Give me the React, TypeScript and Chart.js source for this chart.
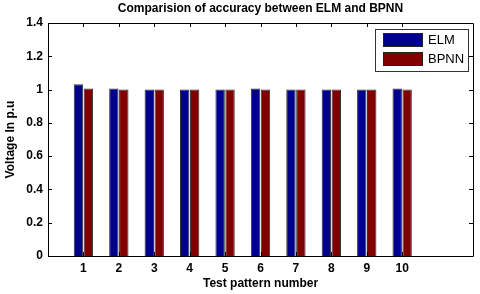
import React, { useEffect, useRef } from "react";
import { Chart, registerables } from "chart.js";

Chart.register(...registerables);

const patterns = [1, 2, 3, 4, 5, 6, 7, 8, 9, 10];
const elmValues = [1.032, 1.007, 1.0, 1.0, 1.0, 1.007, 1.0, 1.0, 1.0, 1.007];
const bpnnValues = [1.007, 1.0, 1.0, 1.0, 1.0, 1.0, 1.0, 1.0, 1.0, 1.0];
const yTicks = [0, 0.2, 0.4, 0.6, 0.8, 1, 1.2, 1.4];
const seriesNames = ["ELM", "BPNN"];
const seriesColors = ["#00008F", "#800000"];
const chartTitle = "Comparision of accuracy between ELM and BPNN";

const FONT = "'Liberation Sans', Arial, sans-serif";

const boxPlugin = {
  id: "matlabBox",
  afterDatasetsDraw(chart: any) {
    const { ctx, chartArea: a, scales } = chart;
    const x = scales.x;
    const y = scales.y;
    ctx.save();
    // title centred over the axes
    ctx.fillStyle = "#000";
    ctx.font = `bold 12px ${FONT}`;
    ctx.textAlign = "center";
    ctx.textBaseline = "middle";
    ctx.fillText(chartTitle, (a.left + a.right) / 2, 9);

    ctx.strokeStyle = "#000";
    ctx.lineWidth = 1;
    ctx.beginPath();
    ctx.rect(Math.round(a.left) + 0.5, Math.round(a.top) + 0.5, Math.round(a.right - a.left), Math.round(a.bottom - a.top));
    ctx.stroke();
    const tl = 4;
    ctx.beginPath();
    patterns.forEach((p) => {
      const px = Math.round(x.getPixelForValue(p)) + 0.5;
      ctx.moveTo(px, a.bottom);
      ctx.lineTo(px, a.bottom - tl);
      ctx.moveTo(px, a.top);
      ctx.lineTo(px, a.top + tl);
    });
    yTicks.forEach((v) => {
      const py = Math.round(y.getPixelForValue(v)) + 0.5;
      ctx.moveTo(a.left, py);
      ctx.lineTo(a.left + tl, py);
      ctx.moveTo(a.right, py);
      ctx.lineTo(a.right - tl, py);
    });
    ctx.stroke();

    // legend
    const lx = 375, ly = 29, lw = 93, lh = 42;
    ctx.fillStyle = "#fff";
    ctx.fillRect(lx, ly, lw, lh);
    ctx.strokeStyle = "#333";
    ctx.strokeRect(lx + 0.5, ly + 0.5, lw, lh);
    chart.data.datasets.forEach((ds: any, i: number) => {
      const sy = ly + 4 + i * 19;
      ctx.fillStyle = ds.backgroundColor;
      ctx.fillRect(383, sy, 40, 14);
      ctx.strokeStyle = "#222";
      ctx.strokeRect(383.5, sy + 0.5, 39, 13);
      ctx.fillStyle = "#000";
      ctx.font = `13px ${FONT}`;
      ctx.textBaseline = "middle";
      ctx.textAlign = "left";
      ctx.fillText(ds.label, 428, sy + 7.5);
    });
    ctx.restore();
  },
};

export default function App() {
  const ref = useRef<HTMLCanvasElement>(null);
  useEffect(() => {
    document.body.style.margin = "0";
    const chart = new Chart(ref.current!, {
      type: "bar",
      data: {
        datasets: [elmValues, bpnnValues].map((vals, i) => ({
          label: seriesNames[i],
          data: patterns.map((p, j) => ({ x: p, y: vals[j] })),
          backgroundColor: seriesColors[i],
          borderColor: "#333",
          borderWidth: 1,
          categoryPercentage: 0.56,
          barPercentage: 0.95,
        })),
      },
      plugins: [boxPlugin],
      options: {
        animation: false,
        responsive: false,
        layout: { padding: { top: 23, right: 7, left: 0, bottom: 0 } },
        plugins: {
          legend: { display: false },
          tooltip: { enabled: false },
          title: { display: false },
        },
        scales: {
          x: {
            type: "linear",
            offset: false,
            min: 0,
            max: 12,
            grid: { display: false, drawTicks: false },
            border: { display: false },
            afterFit: (s: any) => { s.height = 38; },
            afterBuildTicks: (s: any) => { s.ticks = patterns.map((p) => ({ value: p })); },
            ticks: {
              color: "#000",
              font: { family: FONT, size: 12, weight: "bold" },
              padding: 5,
              maxRotation: 0,
              autoSkip: false,
            },
            title: {
              display: true,
              text: "Test pattern number",
              color: "#000",
              font: { family: FONT, size: 12, weight: "bold" },
              padding: { top: 0, bottom: 3 },
            },
          },
          y: {
            min: 0,
            max: 1.4,
            grid: { display: false, drawTicks: false },
            border: { display: false },
            afterFit: (s: any) => { s.width = 48; },
            afterBuildTicks: (s: any) => { s.ticks = yTicks.map((v) => ({ value: v })); },
            ticks: {
              color: "#000",
              font: { family: FONT, size: 12, weight: "bold" },
              padding: 5,
              callback: (v: any) => String(Math.round(Number(v) * 10) / 10),
            },
            title: {
              display: true,
              text: "Voltage In p.u",
              color: "#000",
              font: { family: FONT, size: 12, weight: "bold" },
              padding: { top: 3, bottom: 0 },
            },
          },
        },
      },
    } as any);
    return () => chart.destroy();
  }, []);
  return (
    <div style={{ width: 480, height: 294, background: "#fff" }}>
      <canvas ref={ref} width={480} height={294} />
    </div>
  );
}
